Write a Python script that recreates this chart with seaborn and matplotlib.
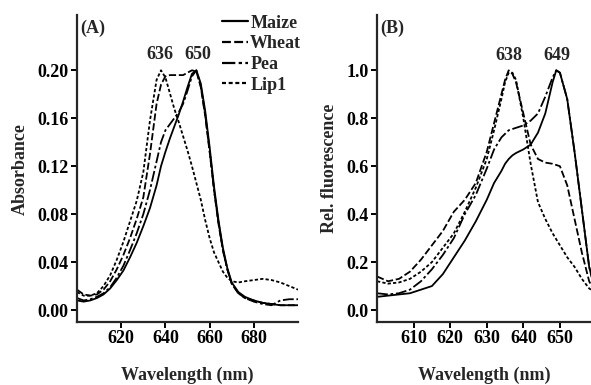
""" Absorbance and fluorescence spectra (A) and (B) """

import matplotlib
matplotlib.use("Agg")
import matplotlib.pyplot as plt
import pandas as pd
import seaborn as sns

# Panel A: absorbance
wl_abs = [600, 603, 606, 609, 612, 615, 618, 621, 624, 627, 630, 633, 636, 638,
          640, 642, 644, 646, 648, 650, 652, 654, 656, 658, 660, 662, 664, 666,
          668, 670, 673, 676, 680, 684, 688, 692, 696, 700]
maize_abs = [0.008, 0.007, 0.008, 0.010, 0.013, 0.018, 0.025, 0.033, 0.044, 0.056,
             0.070, 0.085, 0.104, 0.120, 0.132, 0.143, 0.153, 0.163, 0.174, 0.186,
             0.197, 0.200, 0.189, 0.166, 0.136, 0.103, 0.075, 0.052, 0.035, 0.023,
             0.015, 0.011, 0.008, 0.006, 0.005, 0.004, 0.004, 0.004]
wheat_abs = [0.017, 0.013, 0.012, 0.013, 0.017, 0.024, 0.034, 0.046, 0.060, 0.076,
             0.094, 0.130, 0.172, 0.188, 0.195, 0.196, 0.196, 0.196, 0.196, 0.198,
             0.200, 0.199, 0.186, 0.162, 0.132, 0.100, 0.072, 0.050, 0.034, 0.022,
             0.014, 0.010, 0.008, 0.006, 0.005, 0.004, 0.004, 0.004]
pea_abs = [0.010, 0.008, 0.009, 0.011, 0.014, 0.019, 0.027, 0.037, 0.050, 0.064,
           0.080, 0.100, 0.124, 0.140, 0.150, 0.155, 0.160, 0.165, 0.172, 0.183,
           0.195, 0.200, 0.187, 0.163, 0.133, 0.100, 0.073, 0.050, 0.034, 0.022,
           0.014, 0.010, 0.007, 0.005, 0.004, 0.008, 0.009, 0.009]
lip1_abs = [0.015, 0.012, 0.012, 0.014, 0.020, 0.029, 0.042, 0.057, 0.074, 0.091,
            0.115, 0.158, 0.192, 0.200, 0.194, 0.181, 0.168, 0.157, 0.145, 0.133,
            0.120, 0.106, 0.092, 0.075, 0.060, 0.048, 0.040, 0.032, 0.027, 0.024,
            0.023, 0.024, 0.025, 0.026, 0.025, 0.023, 0.020, 0.017]

# Panel B: relative fluorescence
wl_fl = [600, 603, 606, 609, 612, 615, 618, 621, 624, 627, 630, 632, 634, 635,
         636, 637, 638, 640, 642, 644, 646, 648, 649, 650, 652, 654, 656, 658, 659]
maize_fl = [0.055, 0.060, 0.065, 0.070, 0.085, 0.100, 0.150, 0.220, 0.290, 0.370,
            0.460, 0.530, 0.580, 0.610, 0.630, 0.645, 0.655, 0.670, 0.690, 0.740,
            0.820, 0.950, 1.000, 0.990, 0.880, 0.660, 0.420, 0.180, 0.120]
wheat_fl = [0.140, 0.120, 0.130, 0.160, 0.210, 0.270, 0.330, 0.410, 0.460, 0.530,
            0.660, 0.780, 0.900, 0.960, 1.000, 0.985, 0.950, 0.820, 0.690, 0.630,
            0.615, 0.610, 0.605, 0.600, 0.520, 0.380, 0.240, 0.120, 0.090]
pea_fl = [0.070, 0.065, 0.070, 0.085, 0.120, 0.170, 0.230, 0.300, 0.400, 0.480,
          0.590, 0.670, 0.720, 0.735, 0.750, 0.755, 0.760, 0.770, 0.790, 0.820,
          0.890, 0.970, 1.000, 0.990, 0.880, 0.660, 0.420, 0.180, 0.120]
lip1_fl = [0.120, 0.110, 0.115, 0.130, 0.160, 0.200, 0.260, 0.320, 0.410, 0.510,
           0.630, 0.750, 0.880, 0.950, 0.990, 0.990, 0.960, 0.800, 0.610, 0.450,
           0.380, 0.320, 0.295, 0.270, 0.220, 0.180, 0.130, 0.090, 0.080]

series = ["Maize", "Wheat", "Pea", "Lip1"]
dashes = {
    "Maize": "",
    "Wheat": (4, 1.5),
    "Pea": (6, 1.5, 1.5, 1.5),
    "Lip1": (1.8, 1.2),
}

abs_df = pd.DataFrame({"wl": wl_abs, "Maize": maize_abs, "Wheat": wheat_abs,
                       "Pea": pea_abs, "Lip1": lip1_abs})
fl_df = pd.DataFrame({"wl": wl_fl, "Maize": maize_fl, "Wheat": wheat_fl,
                      "Pea": pea_fl, "Lip1": lip1_fl})
abs_long = abs_df.melt(id_vars="wl", var_name="sample", value_name="y")
fl_long = fl_df.melt(id_vars="wl", var_name="sample", value_name="y")

sns.set_style("ticks")
plt.rcParams["font.family"] = ["Liberation Serif", "DejaVu Serif"]
plt.rcParams["font.weight"] = "bold"
plt.rcParams["axes.labelweight"] = "bold"

FS = 13

fig = plt.figure(figsize=(5.91, 3.85), dpi=100)
ax_a = fig.add_axes([0.1303, 0.1636, 0.374, 0.797])
ax_b = fig.add_axes([0.638, 0.1636, 0.362, 0.797])

for ax, data in ((ax_a, abs_long), (ax_b, fl_long)):
    sns.lineplot(data=data, x="wl", y="y", hue="sample", style="sample",
                 hue_order=series, style_order=series,
                 palette=["black"] * 4, dashes=dashes, linewidth=1.3,
                 sort=False, ax=ax, legend=(ax is ax_a))
    sns.despine(ax=ax)
    for side in ("left", "bottom"):
        ax.spines[side].set_linewidth(1.6)
    ax.tick_params(width=1.4, length=4, pad=2, labelsize=FS, colors="black")
    ax.set_xlabel("Wavelength (nm)", fontsize=FS, labelpad=14)

# Panel A axes
ax_a.set_xlim(600, 700)
ax_a.set_ylim(-0.01, 0.246)
ax_a.set_xticks([620, 640, 660, 680])
ax_a.set_yticks([0.00, 0.04, 0.08, 0.12, 0.16, 0.20])
ax_a.set_yticklabels(["%.2f" % v for v in [0.00, 0.04, 0.08, 0.12, 0.16, 0.20]])
ax_a.set_ylabel("Absorbance", fontsize=FS, labelpad=6)
ax_a.text(0.015, 0.985, "(A)", transform=ax_a.transAxes, fontsize=FS,
          ha="left", va="top")
ax_a.text(637.5, 0.206, "636", fontsize=FS, ha="center", va="bottom")
ax_a.text(654.5, 0.206, "650", fontsize=FS, ha="center", va="bottom")

leg = ax_a.legend(loc="upper left", bbox_to_anchor=(0.624, 1.025),
                  frameon=False, fontsize=FS, handlelength=1.45,
                  handletextpad=0.1, labelspacing=0.2, borderaxespad=0)
for line in leg.get_lines():
    line.set_linewidth(1.6)

# Panel B axes
ax_b.set_xlim(600, 658.5)
ax_b.set_ylim(-0.05, 1.23)
ax_b.set_xticks([610, 620, 630, 640, 650])
ax_b.set_yticks([0.0, 0.2, 0.4, 0.6, 0.8, 1.0])
ax_b.set_yticklabels(["%.1f" % v for v in [0.0, 0.2, 0.4, 0.6, 0.8, 1.0]])
ax_b.set_ylabel("Rel. fluorescence", fontsize=FS, labelpad=6)
ax_b.text(0.015, 0.985, "(B)", transform=ax_b.transAxes, fontsize=FS,
          ha="left", va="top")
ax_b.text(636.0, 1.025, "638", fontsize=FS, ha="center", va="bottom")
ax_b.text(649.3, 1.025, "649", fontsize=FS, ha="center", va="bottom")

fig.savefig("out.png", dpi=100)
